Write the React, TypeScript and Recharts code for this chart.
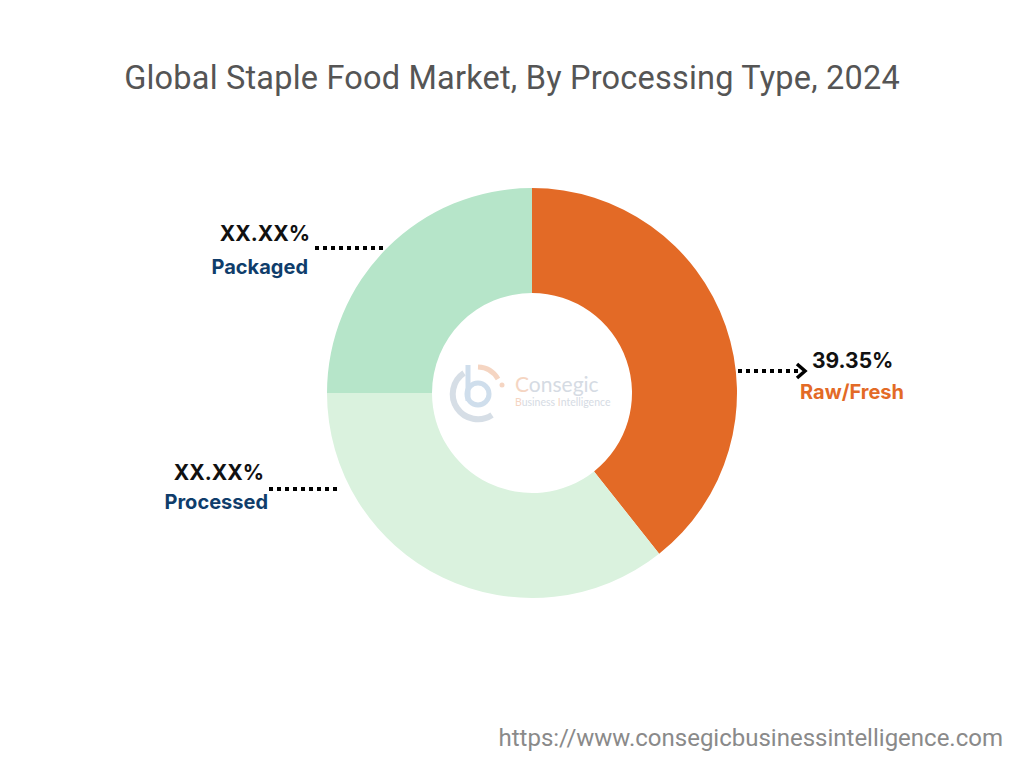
import React from "react";
import { PieChart, Pie, Cell } from "recharts";

const categories = ["Raw/Fresh", "Processed", "Packaged"];
const shares = [39.35, 35.65, 25.0];
const valueLabels = ["39.35%", "XX.XX%", "XX.XX%"];

const sliceColors = ["#E36A26", "#DAF2DE", "#B6E5C9"];
const nameColors = ["#E36A26", "#0F3D6B", "#0F3D6B"];

// annotation layout, offsets from the pie centre
const labelLayout = [
  { side: "right", x1: 206, x2: 266, y: -22, valueX: 280, valueY: -25, nameX: 268, nameY: 6 },
  { side: "left", x1: -195, x2: -267, y: 96, valueX: -268, valueY: 87, nameX: -264, nameY: 116 },
  { side: "left", x1: -149, x2: -219, y: -145, valueX: -222, valueY: -152, nameX: -224, nameY: -119 },
];

const data = categories.map((name, i) => ({ name, value: shares[i] }));

const renderLabel = (props: any) => {
  const { cx, cy, index } = props;
  const l = labelLayout[index];
  const anchor = l.side === "right" ? "start" : "end";
  return (
    <g key={`lbl-${index}`}>
      <line
        x1={cx + l.x1}
        x2={cx + l.x2}
        y1={cy + l.y}
        y2={cy + l.y}
        stroke="#000"
        strokeWidth={4}
        strokeDasharray="4 4"
      />
      {l.side === "right" && (
        <polyline
          points={`${cx + l.x2 - 1},${cy + l.y - 7} ${cx + l.x2 + 7},${cy + l.y} ${cx + l.x2 - 1},${cy + l.y + 7}`}
          fill="none"
          stroke="#000"
          strokeWidth={3.5}
        />
      )}
      <text
        x={cx + l.valueX}
        y={cy + l.valueY}
        textAnchor={anchor}
        fontFamily="Inter, Roboto, sans-serif"
        fontWeight={700}
        fontSize={21}
        fill="#111"
      >
        {valueLabels[index]}
      </text>
      <text
        x={cx + l.nameX}
        y={cy + l.nameY}
        textAnchor={anchor}
        fontFamily="Inter, Roboto, sans-serif"
        fontWeight={700}
        fontSize={20}
        fill={nameColors[index]}
      >
        {categories[index]}
      </text>
    </g>
  );
};

const Watermark = ({ cx, cy }: { cx: number; cy: number }) => (
  <g opacity={0.75}>
    <path
      d={`M ${cx - 68} ${cy - 20} A 24 24 0 1 0 ${cx - 40} ${cy + 22}`}
      fill="none"
      stroke="#C9D3DE"
      strokeWidth={6}
    />
    <line x1={cx - 64} x2={cx - 64} y1={cy - 28} y2={cy + 8} stroke="#BFD3E6" strokeWidth={5} />
    <circle cx={cx - 54} cy={cy + 1} r={11} fill="none" stroke="#BFD3E6" strokeWidth={5} />
    <path
      d={`M ${cx - 54} ${cy - 26} A 24 24 0 0 1 ${cx - 34} ${cy - 14}`}
      fill="none"
      stroke="#F2C8AE"
      strokeWidth={5}
    />
    <circle cx={cx - 30} cy={cy - 8} r={2.5} fill="#F2C8AE" />
    <text x={cx - 17} y={cy - 1} fontFamily="Lato, Roboto, sans-serif" fontSize={21} fill="#C8CFDA">
      <tspan fill="#F2C8AE">C</tspan>onsegic
    </text>
    <text x={cx - 17} y={cy + 13} fontFamily="Lato, Roboto, sans-serif" fontSize={10.5} fill="#C8CFDA">
      <tspan fill="#F2C8AE">B</tspan>usiness <tspan fill="#F2C8AE">I</tspan>ntelligence
    </text>
  </g>
);

export default function App() {
  // pie centre inside the plot area (chart margin is 5px)
  const cx = 527;
  const cy = 388;
  return (
    <div style={{ position: "absolute", left: 0, top: 0, width: 1024, height: 768, background: "#fff" }}>
      <div
        style={{
          position: "absolute",
          top: 59,
          width: 1024,
          textAlign: "center",
          fontFamily: "Roboto, sans-serif",
          fontSize: 32.5,
          color: "#555",
          letterSpacing: 0.2,
        }}
      >
        Global Staple Food Market, By Processing Type, 2024
      </div>
      <PieChart width={1024} height={768}>
        <Pie
          data={data}
          dataKey="value"
          nameKey="name"
          cx={cx}
          cy={cy}
          innerRadius={100}
          outerRadius={205}
          startAngle={90}
          endAngle={-270}
          stroke="none"
          label={renderLabel}
          labelLine={false}
          isAnimationActive={false}
        >
          {data.map((d, i) => (
            <Cell key={d.name} fill={sliceColors[i]} />
          ))}
        </Pie>
        <Watermark cx={cx + 5} cy={cy + 5} />
      </PieChart>
      <div
        style={{
          position: "absolute",
          left: 0,
          width: 1003,
          top: 724,
          textAlign: "right",
          fontFamily: "Roboto, sans-serif",
          fontSize: 24,
          color: "#8a8a8a",
        }}
      >
        https://www.consegicbusinessintelligence.com
      </div>
    </div>
  );
}
